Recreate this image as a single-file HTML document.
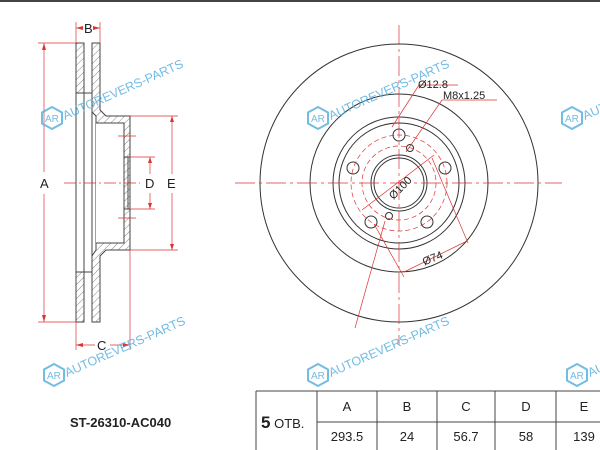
<!DOCTYPE html>
<html><head><meta charset="utf-8"><style>
html,body{margin:0;padding:0;background:#fff;}
svg{display:block;}
text{font-family:"Liberation Sans",sans-serif;}
</style></head><body>
<svg width="600" height="450" viewBox="0 0 600 450" xmlns="http://www.w3.org/2000/svg">
<defs>
<pattern id="h" width="5" height="5" patternUnits="userSpaceOnUse" patternTransform="rotate(45)">
<line x1="0" y1="0" x2="0" y2="5" stroke="#666" stroke-width="0.8"/></pattern>
<g id="wm">
<polygon points="0,-11 10,-5.5 10,5.5 0,11 -10,5.5 -10,-5.5" fill="none" stroke="#5ab0e0" stroke-width="2"/>
<text x="-7" y="4" font-size="10" fill="#5ab0e0">AR</text>
<text x="13" y="2" font-size="12.5" fill="#5ab0e0" transform="rotate(-24 13 2)">AUTOREVERS-PARTS</text>
</g>
</defs>
<rect width="600" height="2" fill="#444"/>

<!-- side view -->
<g stroke="#444" stroke-width="1" fill="none">
<rect x="76" y="43" width="8" height="50" fill="url(#h)"/>
<rect x="76" y="272" width="8" height="50" fill="url(#h)"/>
<path d="M92,43 H100 V110 L106,116 H130 V250 H106 L100,256 V322 H92 V256 L96,250 V116 L92,112 Z" fill="url(#h)"/>
<path d="M96,123 H124 V243 H96" fill="#fff"/>
<line x1="76" y1="43" x2="76" y2="322"/>
<line x1="84" y1="43" x2="84" y2="322"/>
<line x1="92" y1="43" x2="92" y2="322"/>
<line x1="84" y1="93" x2="92" y2="93"/>
<line x1="84" y1="272" x2="92" y2="272"/>
<line x1="124" y1="157" x2="130" y2="157"/>
<line x1="124" y1="209" x2="130" y2="209"/>
<line x1="128" y1="157" x2="128" y2="209"/>
</g>
<g stroke="#d33" stroke-width="0.7" fill="none">
<line x1="38" y1="43" x2="76" y2="43"/><line x1="38" y1="322" x2="76" y2="322"/>
<line x1="44" y1="43" x2="44" y2="172"/><line x1="44" y1="194" x2="44" y2="322"/>
<line x1="76" y1="22" x2="76" y2="43"/><line x1="100" y1="22" x2="100" y2="43"/>
<line x1="76" y1="28" x2="82" y2="28"/><line x1="95" y1="28" x2="100" y2="28"/>
<line x1="76" y1="322" x2="76" y2="350"/><line x1="130" y1="250" x2="130" y2="350"/>
<line x1="76" y1="345" x2="95" y2="345"/><line x1="110" y1="345" x2="130" y2="345"/>
<line x1="130" y1="157" x2="155" y2="157"/><line x1="130" y1="209" x2="155" y2="209"/>
<line x1="150" y1="157" x2="150" y2="174"/><line x1="150" y1="193" x2="150" y2="209"/>
<line x1="130" y1="116" x2="178" y2="116"/><line x1="130" y1="250" x2="178" y2="250"/>
<line x1="172" y1="116" x2="172" y2="174"/><line x1="172" y1="193" x2="172" y2="250"/>
<line x1="64" y1="183" x2="140" y2="183" stroke-dasharray="12,3,2,3"/>
<line x1="118" y1="136" x2="136" y2="136"/><line x1="118" y1="218" x2="136" y2="218"/>
</g>
<g fill="#d33">
<polygon points="44,43 42,50 46,50"/><polygon points="44,322 42,315 46,315"/>
<polygon points="76,28 83,26 83,30"/><polygon points="100,28 93,26 93,30"/>
<polygon points="76,345 83,343 83,347"/><polygon points="130,345 123,343 123,347"/>
<polygon points="150,157 148,163 152,163"/><polygon points="150,209 148,203 152,203"/>
<polygon points="172,116 170,122 174,122"/><polygon points="172,250 170,244 174,244"/>
</g>
<g font-size="13" fill="#222">
<text x="40" y="188">A</text><text x="84" y="33">B</text><text x="97" y="350">C</text>
<text x="145" y="188">D</text><text x="167" y="188">E</text>
</g>

<!-- front view -->
<g stroke="#333" stroke-width="1" fill="none">
<circle cx="399" cy="183" r="139"/>
<circle cx="399" cy="183" r="89"/>
<circle cx="399" cy="183" r="66"/>
<circle cx="399" cy="183" r="60"/>
<circle cx="399" cy="183" r="28"/>
<circle cx="399" cy="183" r="25"/>
<circle cx="399" cy="135" r="6"/>
<circle cx="445" cy="168" r="6"/>
<circle cx="353" cy="168" r="6"/>
<circle cx="427" cy="222" r="6"/>
<circle cx="371" cy="222" r="6"/>
<circle cx="410" cy="148" r="3.5"/>
<circle cx="389" cy="216" r="3.5"/>
</g>
<g stroke="#d33" stroke-width="0.7" fill="none">
<line x1="235" y1="183" x2="562" y2="183" stroke-dasharray="20,4,3,4"/>
<line x1="399" y1="25" x2="399" y2="345" stroke-dasharray="20,4,3,4"/>
<circle cx="399" cy="183" r="48" stroke-dasharray="5,3"/>
<circle cx="399" cy="183" r="37" stroke-dasharray="5,3"/>
<line x1="362" y1="210" x2="434" y2="155"/>
<line x1="392" y1="127" x2="419" y2="85"/><line x1="419" y1="85" x2="458" y2="85"/>
<line x1="406" y1="152" x2="442" y2="100"/><line x1="442" y1="100" x2="497" y2="100"/>
<line x1="374" y1="224" x2="404" y2="277"/>
<line x1="432" y1="158" x2="468" y2="243"/>
<line x1="404" y1="272" x2="465" y2="242"/>
<line x1="385" y1="221" x2="355" y2="328"/>
</g>
<g font-size="11" fill="#222">
<text x="418" y="88">Ø12.8</text>
<text x="443" y="99">M8x1.25</text>
<text x="381" y="196" transform="rotate(-45 392 183)">Ø100</text>
<text x="422" y="262" transform="rotate(-22 432 258)">Ø74</text>
</g>

<!-- watermarks -->
<g opacity="0.85">
<use href="#wm" x="52" y="118"/>
<use href="#wm" x="54" y="375"/>
<use href="#wm" x="318" y="375"/>
<use href="#wm" x="577" y="375"/>
<use href="#wm" x="318" y="118"/>
<use href="#wm" x="572" y="118"/>
</g>

<!-- table -->
<text x="70" y="427" font-size="13" font-weight="bold" fill="#222">ST-26310-AC040</text>
<g stroke="#444" stroke-width="1" fill="none">
<line x1="256" y1="391" x2="600" y2="391"/>
<line x1="317" y1="422" x2="600" y2="422"/>
<line x1="256" y1="391" x2="256" y2="450"/>
<line x1="317" y1="391" x2="317" y2="450"/>
<line x1="377" y1="391" x2="377" y2="450"/>
<line x1="437" y1="391" x2="437" y2="450"/>
<line x1="495" y1="391" x2="495" y2="450"/>
<line x1="556" y1="391" x2="556" y2="450"/>
</g>
<text x="261" y="428" fill="#222"><tspan font-size="17" font-weight="bold">5</tspan><tspan font-size="13"> ОТВ.</tspan></text>
<g font-size="13" fill="#222" text-anchor="middle">
<text x="347" y="411">A</text><text x="407" y="411">B</text><text x="466" y="411">C</text>
<text x="526" y="411">D</text><text x="584" y="411">E</text>
<text x="347" y="441">293.5</text><text x="407" y="441">24</text><text x="466" y="441">56.7</text>
<text x="526" y="441">58</text><text x="584" y="441">139</text>
</g>
</svg>
</body></html>
